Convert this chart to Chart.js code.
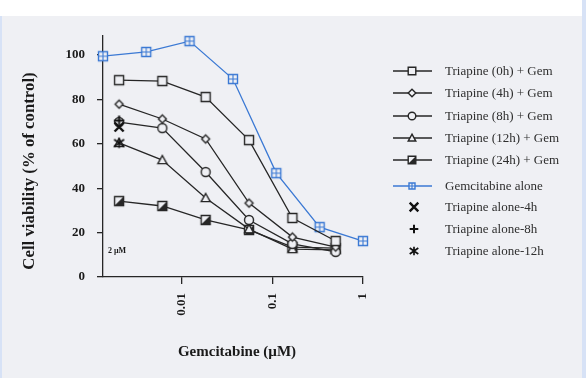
<!DOCTYPE html>
<html>
<head>
<meta charset="utf-8">
<script src="https://cdn.jsdelivr.net/npm/chart.js@4.4.1/dist/chart.umd.min.js"></script>
<style>
html, body { margin: 0; padding: 0; background: #eef0f4; }
canvas { display: block; }
</style>
</head>
<body>
<div style="width:586px;height:378px"><canvas id="myChart"></canvas></div>
<script>
// concentrations (µM), 3-fold dilutions
var conc = [0.00206, 0.00617, 0.0185, 0.0556, 0.167, 0.5];
var gemConc = [0.00137, 0.0041, 0.0123, 0.037, 0.111, 0.333, 1];

// cell viability (% of control)
var tri0h = [88.7, 88.3, 81.1, 61.7, 26.6, 16.2];
var tri4h = [77.9, 71.2, 62.2, 33.3, 18.0, 13.5];
var tri8h = [69.8, 67.1, 47.3, 25.7, 14.9, 11.3];
var tri12h = [60.4, 52.7, 35.6, 21.6, 12.6, 12.2];
var tri24h = [34.2, 32.0, 25.7, 21.2, 13.5, 13.0];
var gemAlone = [99.5, 101.4, 106.3, 89.2, 46.8, 22.5, 16.2];

// triapine alone (2 µM)
var aloneConc = [0.00206];
var alone4h = [67.6];
var alone8h = [70.5];
var alone12h = [60.4];

var yTicks = [0, 20, 40, 60, 80, 100];
var xTicks = [0.01, 0.1, 1];

var ink = '#262626';
var blue = '#3b79d4';
var bg = '#eff0f4';

function paint(g, kind, x, y, r, col) {
    g.save();
    g.strokeStyle = col;
    g.fillStyle = bg;
    g.lineWidth = 1.4;
    g.beginPath();
    if (kind == 'square' || kind == 'half' || kind == 'gem') {
        g.rect(x - r, y - r, 2 * r, 2 * r);
        g.fill(); g.stroke();
        if (kind == 'half') {
            g.beginPath();
            g.moveTo(x + r, y - r); g.lineTo(x + r, y + r); g.lineTo(x - r, y + r);
            g.closePath(); g.fillStyle = col; g.fill();
        }
        if (kind == 'gem') {
            g.lineWidth = 1.1;
            g.beginPath();
            g.moveTo(x, y - r); g.lineTo(x, y + r);
            g.moveTo(x - r, y); g.lineTo(x + r, y);
            g.stroke();
        }
    } else if (kind == 'diamond') {
        g.moveTo(x, y - r); g.lineTo(x + r, y); g.lineTo(x, y + r); g.lineTo(x - r, y);
        g.closePath(); g.fill(); g.stroke();
    } else if (kind == 'circle') {
        g.arc(x, y, r, 0, Math.PI * 2);
        g.fill(); g.stroke();
    } else if (kind == 'triangle') {
        g.moveTo(x, y - r); g.lineTo(x + r, y + r * 0.8); g.lineTo(x - r, y + r * 0.8);
        g.closePath(); g.fill(); g.stroke();
    } else if (kind == 'x') {
        g.lineWidth = 2.4;
        g.moveTo(x - r, y - r); g.lineTo(x + r, y + r);
        g.moveTo(x + r, y - r); g.lineTo(x - r, y + r);
        g.stroke();
    } else if (kind == 'plus') {
        g.lineWidth = 2;
        g.moveTo(x, y - r); g.lineTo(x, y + r);
        g.moveTo(x - r, y); g.lineTo(x + r, y);
        g.stroke();
    } else if (kind == 'star') {
        g.lineWidth = 1.7;
        g.moveTo(x, y - r); g.lineTo(x, y + r);
        g.moveTo(x - r, y - r * 0.7); g.lineTo(x + r, y + r * 0.7);
        g.moveTo(x + r, y - r * 0.7); g.lineTo(x - r, y + r * 0.7);
        g.stroke();
    }
    g.restore();
}

function marker(kind, r, col) {
    var s = Math.ceil(r * 2 + 5);
    var c = document.createElement('canvas');
    c.width = s; c.height = s;
    paint(c.getContext('2d'), kind, s / 2, s / 2, r, col);
    return c;
}

function pts(xs, ys) {
    return xs.map(function(x, i) { return {x: x, y: ys[i]}; });
}

function series(label, xs, ys, kind, r, col, line) {
    return {
        label: label,
        data: pts(xs, ys),
        kind: kind,
        borderColor: col,
        borderWidth: line ? 1.3 : 0,
        showLine: line,
        pointStyle: marker(kind, r, col),
        pointRadius: 5,
        clip: false,
        order: line ? 2 : 1
    };
}

var frame = {
    id: 'frame',
    beforeDraw: function(chart) {
        var g = chart.ctx;
        g.save();
        g.fillStyle = '#d7e2f6';
        g.fillRect(0, 0, chart.width, chart.height);
        g.fillStyle = bg;
        g.fillRect(2, 16, 580, chart.height - 16);
        g.fillStyle = '#ffffff';
        g.fillRect(0, 0, 582, 16);
        g.restore();
    },
    afterDraw: function(chart) {
        var g = chart.ctx;
        g.save();
        g.fillStyle = '#1a1a1a';
        g.textAlign = 'center';
        g.textBaseline = 'middle';
        g.font = 'bold 15px "Liberation Serif"';
        g.fillText('Gemcitabine (µM)', 237, 352);
        g.save();
        g.translate(30, 171);
        g.rotate(-Math.PI / 2);
        g.font = 'bold 16.8px "Liberation Serif"';
        g.fillText('Cell viability (% of control)', 0, 0);
        g.restore();
        g.textAlign = 'left';
        g.font = 'bold 8px "Liberation Serif"';
        g.fillText('2 µM', 108, 251);

        // legend
        var rows = [71, 93, 116, 138, 160, 186, 207, 229, 251];
        g.font = '13px "Liberation Serif"';
        chart.data.datasets.forEach(function(ds, i) {
            var y = rows[i];
            if (ds.showLine) {
                g.strokeStyle = ds.borderColor;
                g.lineWidth = 1.3;
                g.beginPath(); g.moveTo(393, y); g.lineTo(432, y); g.stroke();
                paint(g, ds.kind, 412, y, ds.kind == 'gem' ? 3 : 3.8, ds.borderColor);
            } else {
                paint(g, ds.kind, 414, y, 4.3, ds.borderColor);
            }
            g.fillStyle = '#2e2e2e';
            g.fillText(ds.label, 445, y + 1);
        });
        g.restore();
    }
};

var ctx = document.getElementById('myChart');
var myChart = new Chart(ctx, {
    type: 'line',
    data: {
        datasets: [
            series('Triapine (0h) + Gem', conc, tri0h, 'square', 4.5, ink, true),
            series('Triapine (4h) + Gem', conc, tri4h, 'diamond', 4, ink, true),
            series('Triapine (8h) + Gem', conc, tri8h, 'circle', 4.5, ink, true),
            series('Triapine (12h) + Gem', conc, tri12h, 'triangle', 4.5, ink, true),
            series('Triapine (24h) + Gem', conc, tri24h, 'half', 4.5, ink, true),
            series('Gemcitabine alone', gemConc, gemAlone, 'gem', 4.5, blue, true),
            series('Triapine alone-4h', aloneConc, alone4h, 'x', 4.5, '#111', false),
            series('Triapine alone-8h', aloneConc, alone8h, 'plus', 5, '#111', false),
            series('Triapine alone-12h', aloneConc, alone12h, 'star', 5, '#111', false)
        ]
    },
    options: {
        responsive: true,
        maintainAspectRatio: false,
        animation: false,
        events: [],
        layout: { padding: { left: 0, right: 223, top: 36, bottom: 0 } },
        plugins: { legend: { display: false }, tooltip: { enabled: false } },
        scales: {
            x: {
                type: 'logarithmic',
                min: 0.00137,
                max: 1,
                afterBuildTicks: function(s) { s.ticks = xTicks.map(function(v) { return {value: v}; }); },
                afterFit: function(s) { s.height = 101; },
                grid: { drawOnChartArea: false, tickLength: 7, color: ink, lineWidth: 1.3 },
                border: { color: ink, width: 1.3 },
                ticks: {
                    minRotation: 90, maxRotation: 90, padding: 9, color: '#1a1a1a',
                    font: { family: 'Liberation Serif', size: 13, weight: 'bold' },
                    callback: function(v) { return String(v); }
                }
            },
            y: {
                min: 0,
                max: 108.6,
                afterBuildTicks: function(s) { s.ticks = yTicks.map(function(v) { return {value: v}; }); },
                afterFit: function(s) { s.width = 103; },
                grid: { drawOnChartArea: false, tickLength: 6, color: ink, lineWidth: 1.3 },
                border: { color: ink, width: 1.3 },
                ticks: {
                    padding: 12, color: '#1a1a1a',
                    font: { family: 'Liberation Serif', size: 13, weight: 'bold' }
                }
            }
        }
    },
    plugins: [frame]
});
</script>
</body>
</html>
